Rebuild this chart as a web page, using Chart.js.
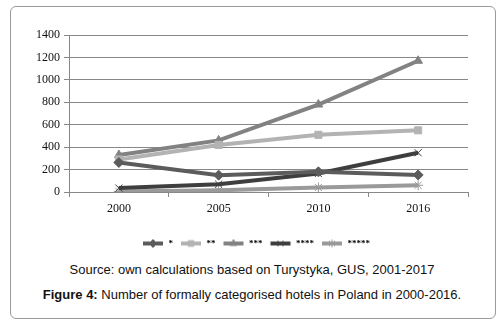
<!DOCTYPE html>
<html>
<head>
<meta charset="utf-8">
<script src="https://cdn.jsdelivr.net/npm/chart.js@4"></script>
<style>
  html, body { margin: 0; padding: 0; background: #fff; }
  #page { position: relative; width: 504px; height: 327px; overflow: hidden; }
  #frame {
    position: absolute; left: 10px; top: 6px; width: 484px; height: 311px;
    border: 1px solid #9a9a9a; border-radius: 6px;
  }
  #chartBox { position: absolute; left: 0; top: 0; width: 504px; height: 258px; }
  .cap {
    position: absolute; left: 0; width: 504px; text-align: center;
    font-family: "Liberation Sans", Arial, sans-serif; font-size: 13px; color: #111;
  }
</style>
</head>
<body>
<div id="page">
  <div id="frame"></div>
  <div id="chartBox"><canvas id="chart"></canvas></div>
  <div class="cap" style="top:262px;">Source: own calculations based on Turystyka, GUS, 2001-2017</div>
  <div class="cap" style="top:287px;"><b>Figure 4:</b> Number of formally categorised hotels in Poland in 2000-2016.</div>
</div>
<script>
// lata i kategorie hoteli
const years = ["2000", "2005", "2010", "2016"];
const seriesNames = ["*", "**", "***", "****", "*****"];

// liczba hoteli w kazdej kategorii
const oneStar = [263, 150, 180, 152];
const twoStar = [290, 420, 510, 550];
const threeStar = [330, 460, 780, 1170];
const fourStar = [35, 70, 165, 350];
const fiveStar = [5, 15, 40, 60];

const yTicks = [0, 200, 400, 600, 800, 1000, 1200, 1400];

const colors = ["#5c5c5c", "#b3b3b3", "#828282", "#3e3e3e", "#9a9a9a"];
const markers = ["rectRot", "rect", "triangle", "crossRot", "star"];
const allValues = [oneStar, twoStar, threeStar, fourStar, fiveStar];

// mala ikonka legendy: linia + znacznik
function legendIcon(color, style) {
  const c = document.createElement("canvas");
  c.width = 22;
  c.height = 12;
  const ctx = c.getContext("2d");
  ctx.strokeStyle = color;
  ctx.fillStyle = color;
  ctx.lineWidth = 4;
  ctx.beginPath();
  ctx.moveTo(1, 6);
  ctx.lineTo(21, 6);
  ctx.stroke();
  ctx.lineWidth = 1;
  Chart.helpers.drawPoint(ctx, { pointStyle: style, radius: 4, borderWidth: 1 }, 11, 6);
  return c;
}

const datasets = seriesNames.map((name, i) => ({
  label: name,
  data: allValues[i],
  borderColor: colors[i],
  backgroundColor: colors[i],
  borderWidth: 4,
  pointStyle: markers[i],
  pointRadius: 5,
  pointBorderWidth: 1,
  tension: 0,
  fill: false,
}));

const serif = "'Liberation Serif', 'Times New Roman', serif";

// legenda wysrodkowana na calej szerokosci, nie tylko nad wykresem
const shiftLegend = {
  id: "shiftLegend",
  afterLayout(chart) {
    const lg = chart.legend;
    if (lg) {
      lg.left += 22;
      lg.right += 22;
    }
  },
};

new Chart(document.getElementById("chart"), {
  type: "line",
  data: { labels: years, datasets: datasets },
  plugins: [shiftLegend],
  options: {
    responsive: true,
    maintainAspectRatio: false,
    animation: false,
    layout: { padding: { top: 35, right: 36, left: 0, bottom: 0 } },
    scales: {
      x: {
        offset: true,
        grid: { display: true, offset: true, drawOnChartArea: false, drawTicks: true, tickLength: 5, color: "#888" },
        border: { display: false },
        ticks: { font: { family: serif, size: 12 }, color: "#111", padding: 5 },
        afterFit: (scale) => { scale.height = 40; },
      },
      y: {
        min: 0,
        max: 1400,
        afterBuildTicks: (scale) => { scale.ticks = yTicks.map((v) => ({ value: v })); },
        grid: { color: "#888", tickLength: 5 },
        border: { display: true, color: "#888" },
        ticks: {
          font: { family: serif, size: 12 },
          color: "#111",
          padding: 4,
          callback: (v) => String(v),
        },
        afterFit: (scale) => { scale.width = 69; },
      },
    },
    plugins: {
      tooltip: { enabled: false },
      legend: {
        position: "bottom",
        labels: {
          usePointStyle: true,
          pointStyleWidth: 22,
          padding: 7,
          font: { family: serif, size: 9, weight: "bold" },
          color: "#222",
          generateLabels: (chart) =>
            chart.data.datasets.map((ds, i) => ({
              text: ds.label,
              pointStyle: legendIcon(colors[i], markers[i]),
              fillStyle: colors[i],
              strokeStyle: colors[i],
              lineWidth: 0,
              datasetIndex: i,
            })),
        },
      },
    },
  },
});
</script>
</body>
</html>
